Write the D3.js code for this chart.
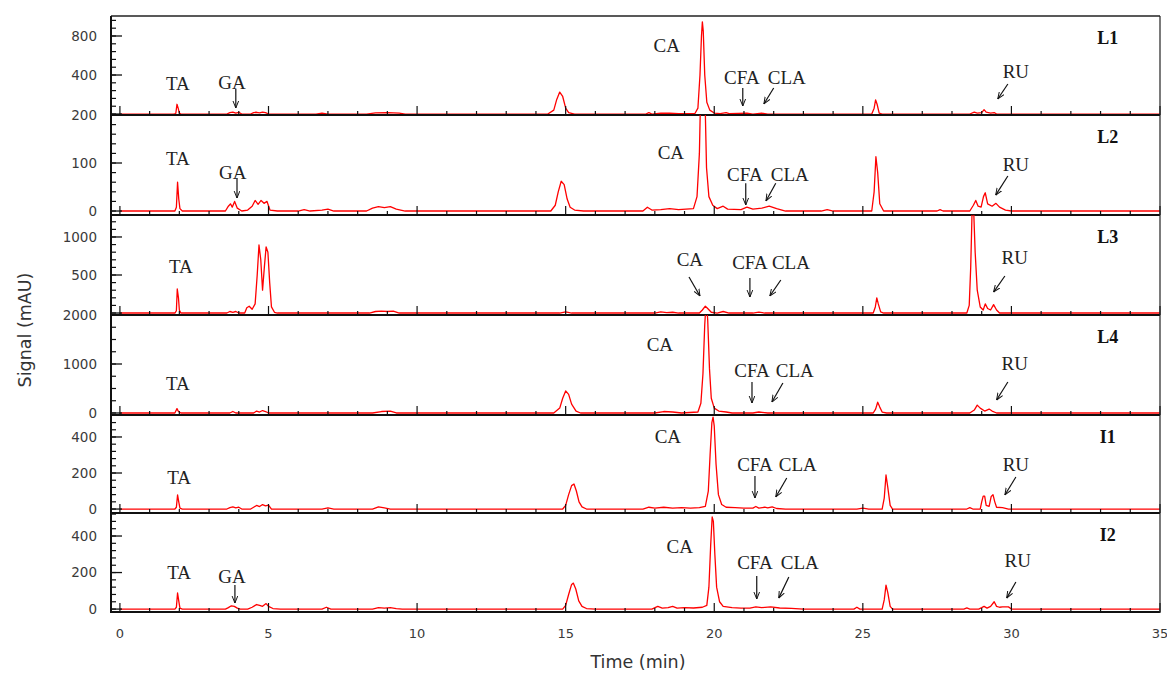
<!DOCTYPE html>
<html><head><meta charset="utf-8">
<script src="https://cdn.jsdelivr.net/npm/d3@7"></script>
<style>body{margin:0;background:#fff}</style></head>
<body>
<svg id="c" width="1167" height="674"></svg>
<script>
// ---------------- DATA ----------------
const panelNames = ["L1","L2","L3","L4","I1","I2"];
const yDomains = [[-10,1005],[-8.3,200],[-26,1289],[-41,2000],[-22,522],[-16,526]];
const yTickValues = [[0,400,800],[0,100,200],[0,500,1000],[0,1000,2000],[0,200,400],[0,200,400]];
// tick labels (the "0" of L1 and L3 merge with "200"/"2000" of the panel below)
const yTickLabels = [[400,800],[0,100,200],[500,1000],[0,1000,2000],[0,200,400],[0,200,400]];
const yMinorStep = [80,20,100,250,40,40];
const xTickLabels = [0,5,10,15,20,25,30,35];

const traceL1 = [[0,0],[1.8,0],[1.88,5],[1.92,100],[1.96,60],[2.0,10],[2.05,0],
[3.6,0],[3.7,15],[3.8,20],[3.9,10],[4.0,18],[4.1,0],
[4.4,0],[4.5,15],[4.6,18],[4.7,12],[4.8,20],[4.9,15],[5.0,0],
[6.6,0],[6.8,10],[7.0,0],[8.3,0],[8.6,12],[9.0,15],[9.4,10],[9.6,0],
[14.4,0],[14.6,40],[14.7,150],[14.8,225],[14.9,180],[15.0,60],[15.1,15],[15.3,0],
[17.7,0],[17.8,15],[17.9,0],[18.2,8],[18.5,10],[18.8,5],
[19.35,5],[19.45,60],[19.52,400],[19.57,800],[19.6,945],[19.63,850],[19.68,400],[19.75,120],[19.85,40],[20.0,10],[20.2,5],[20.4,15],[20.5,5],
[21.1,10],[21.3,0],[21.6,8],[21.8,0],
[25.3,0],[25.38,60],[25.43,145],[25.48,100],[25.55,10],[25.65,0],
[28.6,0],[28.75,20],[28.85,10],[29.0,15],[29.08,45],[29.15,20],[29.3,10],[29.42,15],[29.5,0],[35,0]];

const traceL2 = [[0,0],[1.85,0],[1.9,8],[1.94,60],[1.98,25],[2.02,5],[2.1,0],
[3.55,0],[3.65,10],[3.72,15],[3.78,8],[3.86,20],[3.95,6],[4.1,0],
[4.3,2],[4.45,10],[4.55,22],[4.65,14],[4.75,22],[4.85,16],[4.95,20],[5.05,2],[5.3,0],
[6.0,0],[6.2,3],[6.4,0],[6.8,2],[7.0,4],[7.2,0],
[8.3,0],[8.5,6],[8.7,9],[8.9,7],[9.1,9],[9.3,4],[9.6,0],
[14.5,0],[14.65,12],[14.75,40],[14.85,62],[14.95,55],[15.05,25],[15.15,8],[15.3,2],[15.6,0],
[17.6,0],[17.75,8],[17.9,2],[18.2,3],[18.5,5],[18.8,3],
[19.3,5],[19.42,30],[19.5,120],[19.56,300],[19.62,380],[19.68,260],[19.74,90],[19.82,30],[19.95,12],[20.1,5],[20.3,10],[20.45,4],
[20.9,3],[21.1,8],[21.3,4],[21.6,6],[21.85,10],[22.1,5],[22.4,0],
[23.6,0],[23.8,3],[24.0,0],
[25.3,0],[25.38,40],[25.44,113],[25.5,80],[25.57,15],[25.7,0],
[27.5,0],[27.6,3],[27.7,0],
[28.6,0],[28.72,12],[28.8,22],[28.88,10],[28.98,8],[29.06,30],[29.12,38],[29.2,15],[29.35,10],[29.48,16],[29.6,8],[29.8,2],[30.0,0],[35,0]];

const traceL3 = [[0,0],[1.85,0],[1.9,30],[1.93,316],[1.97,200],[2.0,40],[2.05,0],
[3.6,0],[3.7,20],[3.8,10],[3.9,20],[4.0,0],
[4.2,0],[4.27,70],[4.35,90],[4.45,50],[4.55,120],[4.62,500],[4.68,895],[4.74,700],[4.8,300],[4.86,600],[4.92,870],[4.98,800],[5.04,400],[5.1,80],[5.2,10],[5.3,0],
[8.4,0],[8.6,20],[8.8,25],[9.0,20],[9.2,25],[9.4,0],
[14.8,0],[15.0,15],[15.2,0],
[18.0,0],[18.2,15],[18.4,5],[18.6,10],[18.8,0],
[19.5,0],[19.6,40],[19.7,90],[19.78,60],[19.9,10],[20.1,0],[20.3,20],[20.5,0],
[21.3,0],[21.5,12],[21.7,0],
[25.35,0],[25.42,80],[25.47,200],[25.52,120],[25.6,15],[25.7,0],
[28.5,0],[28.58,100],[28.63,600],[28.68,1400],[28.73,1350],[28.78,800],[28.85,300],[28.95,80],[29.05,40],[29.12,120],[29.2,60],[29.3,40],[29.4,110],[29.5,40],[29.6,0],[35,0]];

const traceL4 = [[0,0],[1.85,0],[1.92,90],[1.97,30],[2.05,0],
[3.7,0],[3.8,30],[3.9,0],
[4.5,0],[4.6,40],[4.7,20],[4.8,50],[4.9,30],[5.0,0],
[8.5,0],[8.8,30],[9.1,40],[9.3,0],
[14.6,0],[14.8,100],[14.9,300],[15.0,450],[15.1,380],[15.2,180],[15.35,40],[15.5,0],
[18.0,0],[18.3,30],[18.6,20],[18.9,0],
[19.45,20],[19.55,200],[19.62,800],[19.68,1800],[19.73,2300],[19.78,1900],[19.84,900],[19.9,300],[20.0,100],[20.15,40],[20.4,20],[20.6,0],
[21.3,0],[21.5,20],[21.8,0],
[25.35,0],[25.43,80],[25.5,220],[25.57,120],[25.65,20],[25.8,0],
[28.6,0],[28.75,60],[28.85,160],[28.95,100],[29.1,40],[29.25,80],[29.35,40],[29.5,0],[35,0]];

const traceI1 = [[0,0],[1.85,0],[1.9,10],[1.94,78],[1.98,40],[2.02,5],[2.1,0],
[3.6,0],[3.7,8],[3.8,12],[3.9,6],[4.0,10],[4.1,0],
[4.4,0],[4.5,10],[4.6,20],[4.7,14],[4.8,25],[4.9,18],[5.0,22],[5.1,0],
[6.8,0],[7.0,6],[7.2,0],[8.5,0],[8.7,12],[8.9,6],[9.1,0],
[14.9,0],[15.0,20],[15.1,80],[15.2,130],[15.28,139],[15.36,100],[15.45,40],[15.55,12],[15.7,0],
[17.6,0],[17.8,10],[18.0,5],[18.3,10],[18.6,5],[18.9,8],[19.2,5],[19.5,8],
[19.7,15],[19.8,100],[19.86,300],[19.92,480],[19.96,510],[20.0,460],[20.06,250],[20.14,80],[20.25,25],[20.4,10],[20.7,8],[21.0,5],
[21.3,5],[21.4,14],[21.5,5],[21.7,10],[21.8,6],[21.95,12],[22.1,3],[22.4,0],
[24.8,0],[25.0,5],[25.2,0],
[25.65,0],[25.72,60],[25.78,189],[25.84,120],[25.92,20],[26.0,0],
[28.5,0],[28.6,8],[28.7,0],
[28.95,0],[29.0,40],[29.05,72],[29.1,72],[29.15,20],[29.25,15],[29.32,70],[29.38,80],[29.44,40],[29.5,10],[29.7,8],[29.9,0],[35,0]];

const traceI2 = [[0,0],[1.85,0],[1.9,10],[1.94,88],[1.98,45],[2.02,5],[2.1,0],
[3.55,0],[3.65,8],[3.75,18],[3.85,15],[3.95,5],[4.05,0],
[4.3,0],[4.45,10],[4.6,25],[4.7,20],[4.8,15],[4.92,30],[5.0,15],[5.15,3],[5.4,0],
[6.8,0],[6.95,10],[7.1,0],
[8.5,0],[8.7,8],[8.9,5],[9.1,8],[9.3,3],[9.5,0],
[14.9,0],[15.0,20],[15.1,80],[15.2,135],[15.26,142],[15.34,110],[15.44,45],[15.55,15],[15.7,3],[16.0,0],
[17.9,0],[18.1,15],[18.25,5],[18.45,8],[18.6,15],[18.75,5],[19.0,8],[19.3,6],[19.6,10],
[19.75,20],[19.82,120],[19.88,350],[19.93,504],[19.97,480],[20.02,300],[20.08,120],[20.18,40],[20.3,15],[20.6,8],[20.9,5],
[21.2,5],[21.4,12],[21.6,8],[21.9,12],[22.2,6],[22.6,4],[23.0,0],
[24.7,0],[24.8,10],[24.9,0],
[25.65,0],[25.72,50],[25.78,131],[25.84,90],[25.92,15],[26.0,0],
[28.4,0],[28.5,6],[28.6,0],
[28.9,0],[29.0,8],[29.08,15],[29.18,5],[29.3,15],[29.42,40],[29.5,15],[29.6,10],[29.7,12],[29.9,12],[30.0,0],[35,0]];

const traces = [traceL1, traceL2, traceL3, traceL4, traceI1, traceI2];

// peak labels: [text, time, value]
const labelsL1 = [["TA",1.95,318],["GA",3.77,328],["CA",18.4,708],["CFA",20.93,380],["CLA",22.44,380],["RU",30.15,441]];
const labelsL2 = [["TA",1.95,110],["GA",3.8,81],["CA",18.54,123],["CFA",21.03,77],["CLA",22.54,77],["RU",30.15,98]];
const labelsL3 = [["TA",2.05,618],["CA",19.18,710],["CFA",21.2,671],["CLA",22.58,671],["RU",30.11,737]];
const labelsL4 = [["TA",1.95,612],["CA",18.17,1408],["CFA",21.27,878],["CLA",22.71,878],["RU",30.11,1020]];
const labelsI1 = [["TA",1.99,178],["CA",18.44,405],["CFA",21.37,250],["CLA",22.81,250],["RU",30.15,250]];
const labelsI2 = [["TA",1.99,203],["GA",3.77,181],["CA",18.84,345],["CFA",21.37,258],["CLA",22.88,258],["RU",30.21,268]];
const peakLabels = [labelsL1, labelsL2, labelsL3, labelsL4, labelsI1, labelsI2];

// arrows: [t0, v0, t1, v1]
const arrowsL1 = [[3.9,256,3.9,62],[20.96,267,20.96,82],[22.0,267,21.67,103],[29.88,308,29.54,154]];
const arrowsL2 = [[3.94,69,3.94,27],[21.06,58,21.06,12.5],[22.07,58,21.74,21],[29.88,73,29.47,33]];
const arrowsL3 = [[19.15,474,19.52,224],[21.2,460,21.2,210],[22.24,434,21.87,224],[29.78,487,29.4,276]];
const arrowsL4 = [[21.27,633,21.27,204],[22.31,612,21.94,224],[29.88,633,29.5,265]];
const arrowsI1 = [[21.37,183,21.37,61],[22.44,172,22.07,67],[30.15,178,29.78,78]];
const arrowsI2 = [[3.87,132,3.87,33],[21.43,181,21.43,55],[22.51,175,22.17,60],[30.15,148,29.84,60]];
const arrows = [arrowsL1, arrowsL2, arrowsL3, arrowsL4, arrowsI1, arrowsI2];

// ---------------- LAYOUT ----------------
const panelTop = [16,115,215,315,415,513];
const panelBot = [115,215,315,415,513,612];
const left = 111, right = 1160;
const svg = d3.select("#c");
const x = d3.scaleLinear().domain([-0.3,35]).range([left,right]);

const defs = svg.append("defs");
defs.append("marker").attr("id","ah").attr("viewBox","0 0 10 10")
  .attr("refX",10).attr("refY",5).attr("markerWidth",7).attr("markerHeight",7)
  .attr("markerUnits","userSpaceOnUse").attr("orient","auto")
  .append("path").attr("d","M0,1 L10,5 L0,9").attr("fill","none").attr("stroke","#111").attr("stroke-width",1.4);

panelNames.forEach((name,i)=>{
  const y = d3.scaleLinear().domain(yDomains[i]).range([panelBot[i],panelTop[i]]);
  defs.append("clipPath").attr("id","clip"+i).append("rect")
    .attr("x",left).attr("y",panelTop[i]).attr("width",right-left).attr("height",panelBot[i]-panelTop[i]);
  const g = svg.append("g");
  g.append("path").datum(traces[i]).attr("clip-path","url(#clip"+i+")")
    .attr("fill","none").attr("stroke","#ff0000").attr("stroke-width",1.3).attr("stroke-linejoin","round")
    .attr("d",d3.line().x(d=>x(d[0])).y(d=>y(d[1])));
  g.selectAll(".xt").data(d3.range(0,36)).join("line")
    .attr("x1",d=>x(d)).attr("x2",d=>x(d))
    .attr("y1",panelBot[i]).attr("y2",d=>panelBot[i]-(d%5===0?9:4))
    .attr("stroke","#111").attr("stroke-width",1.2);
  const ymax = yDomains[i][1];
  g.selectAll(".ymt").data(d3.range(0,ymax+0.001,yMinorStep[i])).join("line")
    .attr("x1",left).attr("x2",left+5).attr("y1",d=>y(d)).attr("y2",d=>y(d))
    .attr("stroke","#111").attr("stroke-width",1.2);
  g.selectAll(".yMt").data(yTickValues[i]).join("line")
    .attr("x1",left).attr("x2",left+11).attr("y1",d=>y(d)).attr("y2",d=>y(d))
    .attr("stroke","#111").attr("stroke-width",1.3);
  g.selectAll(".ytl").data(yTickLabels[i]).join("text")
    .attr("x",97).attr("y",d=>y(d)).attr("dy","0.36em").attr("text-anchor","end")
    .attr("font-family","DejaVu Sans").attr("font-size",13.5).attr("fill","#3a3a3a").text(d=>d);
  g.selectAll(".pl").data(peakLabels[i]).join("text")
    .attr("x",d=>x(d[1])).attr("y",d=>y(d[2])).attr("dy","0.35em").attr("text-anchor","middle")
    .attr("font-family","Liberation Serif").attr("font-size",19).attr("fill","#222").text(d=>d[0]);
  g.selectAll(".ar").data(arrows[i]).join("line")
    .attr("x1",d=>x(d[0])).attr("y1",d=>y(d[1])).attr("x2",d=>x(d[2])).attr("y2",d=>y(d[3]))
    .attr("stroke","#111").attr("stroke-width",1.2).attr("marker-end","url(#ah)");
  g.append("text").attr("x",x(33.24)).attr("y",(panelTop[i]+22)).attr("dy","0.35em")
    .attr("text-anchor","middle").attr("font-family","Liberation Serif").attr("font-weight","bold")
    .attr("font-size",18).attr("fill","#111").text(name);
  svg.append("line").attr("x1",left).attr("x2",right).attr("y1",panelBot[i]).attr("y2",panelBot[i])
    .attr("stroke","#111").attr("stroke-width",2);
});

svg.append("line").attr("x1",left).attr("x2",right).attr("y1",16).attr("y2",16).attr("stroke","#222").attr("stroke-width",1.6);
svg.append("line").attr("x1",left).attr("x2",left).attr("y1",16).attr("y2",613).attr("stroke","#111").attr("stroke-width",2);
svg.append("line").attr("x1",right).attr("x2",right).attr("y1",16).attr("y2",613).attr("stroke","#222").attr("stroke-width",1.2);

svg.selectAll(".xl").data(xTickLabels).join("text")
  .attr("x",d=>x(d)).attr("y",633).attr("dy","0.36em").attr("text-anchor","middle")
  .attr("font-family","DejaVu Sans").attr("font-size",13).attr("fill","#3a3a3a").text(d=>d);

svg.append("text").attr("x",638).attr("y",662).attr("dy","0.35em").attr("text-anchor","middle")
  .attr("font-family","DejaVu Sans").attr("font-size",17.5).attr("fill","#333").text("Time (min)");
svg.append("text").attr("transform","translate(25,330) rotate(-90)").attr("dy","0.35em").attr("text-anchor","middle")
  .attr("font-family","DejaVu Sans").attr("font-size",17.5).attr("fill","#333").text("Signal (mAU)");
</script>
</body></html>
